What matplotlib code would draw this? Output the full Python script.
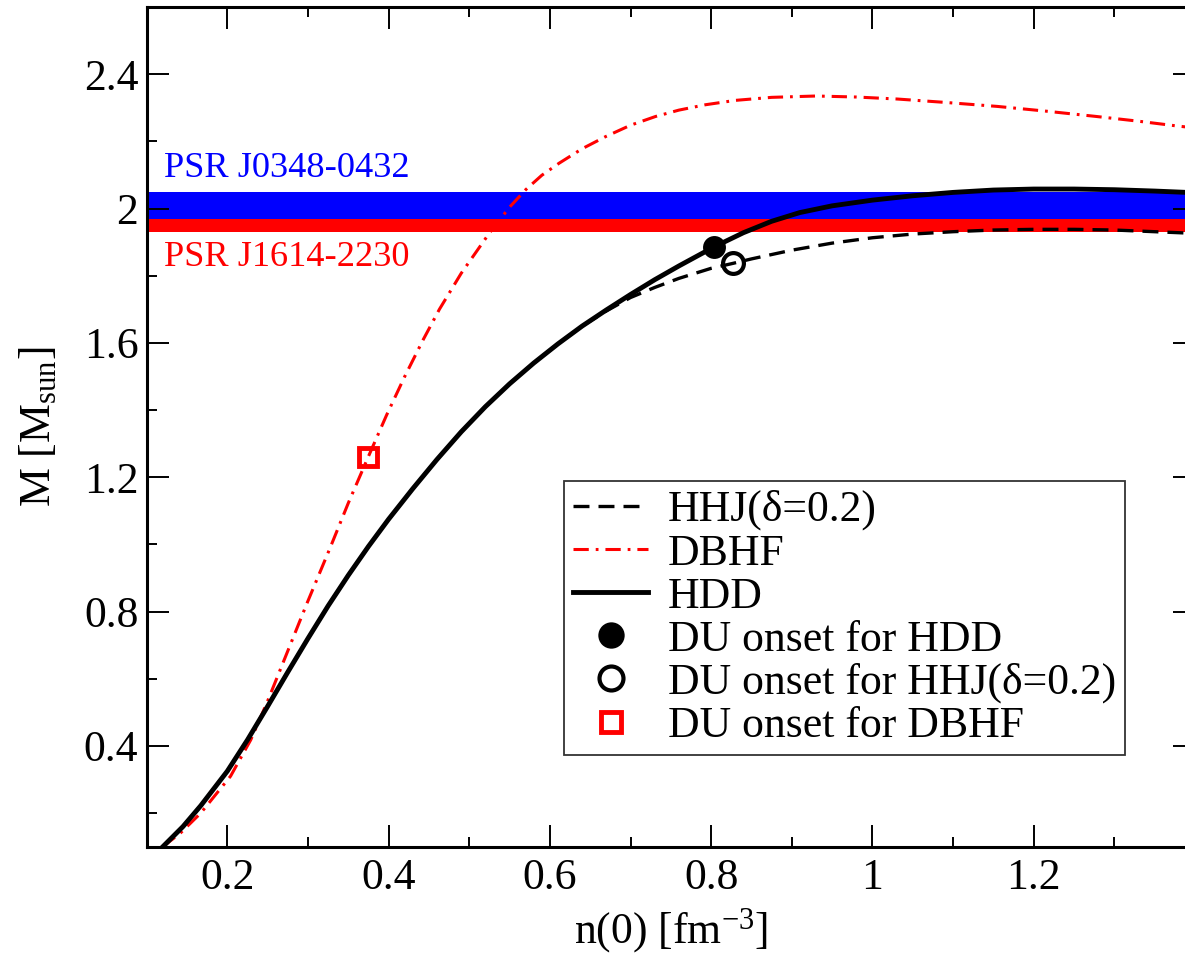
import numpy as np
import matplotlib
matplotlib.use("Agg")
import matplotlib.pyplot as plt
from matplotlib.ticker import FixedLocator, FuncFormatter

plt.rcParams['font.family'] = ['Liberation Serif', 'DejaVu Serif']
plt.rcParams['mathtext.fontset'] = 'custom'
plt.rcParams['mathtext.rm'] = 'Liberation Serif'
plt.rcParams['mathtext.it'] = 'Liberation Serif:italic'
plt.rcParams['lines.scale_dashes'] = False

# central density n(0) [fm^-3] vs. maximum mass [M_sun]
hdd_n = [0.12, 0.145, 0.167, 0.2, 0.225, 0.25, 0.275, 0.3, 0.325, 0.35, 0.375, 0.4,
         0.43, 0.46, 0.49, 0.52, 0.55, 0.58, 0.61, 0.64, 0.67, 0.7, 0.73, 0.76,
         0.803, 0.84, 0.875, 0.91, 0.95, 1.0, 1.05, 1.1, 1.15, 1.2, 1.25, 1.3, 1.35, 1.4]
hdd_m = [0.10, 0.16, 0.222, 0.325, 0.418, 0.518, 0.62, 0.72, 0.817, 0.908, 0.994, 1.075,
         1.166, 1.253, 1.335, 1.41, 1.478, 1.54, 1.597, 1.65, 1.698, 1.744, 1.788, 1.829,
         1.885, 1.928, 1.962, 1.988, 2.008, 2.025, 2.038, 2.048, 2.055, 2.058, 2.058,
         2.056, 2.052, 2.047]

hhj_n = [0.12, 0.145, 0.167, 0.2, 0.225, 0.25, 0.275, 0.3, 0.325, 0.35, 0.375, 0.4,
         0.43, 0.46, 0.49, 0.52, 0.55, 0.58, 0.61, 0.64, 0.67, 0.7, 0.73, 0.76,
         0.8, 0.8275, 0.85, 0.9, 0.95, 1.0, 1.05, 1.1, 1.15, 1.2, 1.25, 1.3, 1.35, 1.4]
hhj_m = [0.10, 0.16, 0.222, 0.325, 0.418, 0.518, 0.62, 0.72, 0.817, 0.908, 0.994, 1.075,
         1.166, 1.253, 1.335, 1.41, 1.478, 1.54, 1.597, 1.65, 1.695, 1.735, 1.765, 1.792,
         1.822, 1.837, 1.85, 1.876, 1.897, 1.913, 1.924, 1.931, 1.936, 1.938, 1.938,
         1.936, 1.931, 1.926]

dbhf_n = [0.12, 0.142, 0.167, 0.204, 0.229, 0.249, 0.274, 0.299, 0.3275, 0.35, 0.375,
          0.3975, 0.42, 0.443, 0.463, 0.49, 0.525, 0.55, 0.57, 0.59, 0.6115, 0.64,
          0.669, 0.7, 0.731, 0.76, 0.793, 0.83, 0.875, 0.93, 0.98, 1.031, 1.09, 1.155,
          1.215, 1.278, 1.33, 1.377, 1.4]
dbhf_m = [0.10, 0.141, 0.20, 0.31, 0.418, 0.528, 0.677, 0.826, 0.99, 1.123, 1.262,
          1.385, 1.50, 1.61, 1.70, 1.807, 1.927, 2.004, 2.056, 2.099, 2.135, 2.178,
          2.214, 2.248, 2.274, 2.293, 2.309, 2.322, 2.331, 2.335, 2.332, 2.326, 2.316,
          2.304, 2.29, 2.274, 2.26, 2.246, 2.24]

# direct Urca onset points
du_hdd = (0.803, 1.885)
du_hhj = (0.8275, 1.837)
du_dbhf = (0.375, 1.26)

# observed pulsar masses (mean, error)
psr_j0348 = (2.01, 0.04)
psr_j1614 = (1.97, 0.04)

fig = plt.figure(figsize=(11.85, 9.59), dpi=100)
ax = fig.add_axes([0.1238, 0.1171, 0.8846, 0.8756])

ax.axhspan(psr_j1614[0] - psr_j1614[1], psr_j1614[0] + psr_j1614[1], color='#ff0000', lw=0, zorder=1)
ax.axhspan(psr_j0348[0] - psr_j0348[1], psr_j0348[0] + psr_j0348[1], color='#0000ff', lw=0, zorder=1)

ax.text(0.1214, 2.095, 'PSR J0348-0432', color='#0000ff', fontsize=26.2, va='baseline')
ax.text(0.1214, 1.83, 'PSR J1614-2230', color='#ff0000', fontsize=26.2, va='baseline')

l_hhj, = ax.plot(hhj_n, hhj_m, color='k', lw=2.4, dashes=(11.5, 6.5), zorder=3,
                 label='HHJ(δ=0.2)')
l_dbhf, = ax.plot(dbhf_n, dbhf_m, color='#ff0000', lw=2.2, dashes=(11, 5, 2, 5), zorder=3,
                  label='DBHF')
l_hdd, = ax.plot(hdd_n, hdd_m, color='k', lw=3.5, zorder=4, label='HDD')

m_hdd, = ax.plot(du_hdd[0], du_hdd[1], 'o', color='k', ms=16.5, mew=0, zorder=5,
                 label='DU onset for HDD')
m_hhj, = ax.plot(du_hhj[0], du_hhj[1], 'o', mfc='none', mec='k', ms=15, mew=3, zorder=5,
                 label='DU onset for HHJ(δ=0.2)')
m_dbhf, = ax.plot(du_dbhf[0], du_dbhf[1], 's', mfc='none', mec='#ff0000', ms=13, mew=3.5,
                  zorder=5, label='DU onset for DBHF')

ax.set_xlim(0.1, 1.4)
ax.set_ylim(0.1, 2.6)
ax.xaxis.set_major_locator(FixedLocator([0.2, 0.4, 0.6, 0.8, 1.0, 1.2]))
ax.xaxis.set_minor_locator(FixedLocator([0.1, 0.3, 0.5, 0.7, 0.9, 1.1, 1.3]))
ax.yaxis.set_major_locator(FixedLocator([0.4, 0.8, 1.2, 1.6, 2.0, 2.4]))
ax.yaxis.set_minor_locator(FixedLocator([0.2, 0.6, 1.0, 1.4, 1.8, 2.2]))
fmt = FuncFormatter(lambda v, p: '%g' % round(v, 2))
ax.xaxis.set_major_formatter(fmt)
ax.yaxis.set_major_formatter(fmt)

ax.tick_params(which='both', direction='in', top=True, right=True, width=1.4, labelsize=31.5)
ax.tick_params(which='major', length=15.5)
ax.tick_params(which='minor', length=7.5)
ax.tick_params(axis='x', which='major', pad=8)
ax.tick_params(axis='y', which='major', pad=6)
for s in ax.spines.values():
    s.set_linewidth(2.2)

ax.set_xlabel(r'n(0) [fm$^{-3}$]', fontsize=31.5, labelpad=6)
ax.set_ylabel(r'M [M$_{\rm sun}$]', fontsize=31.5, labelpad=18)

leg = ax.legend(handles=[l_hhj, l_dbhf, l_hdd, m_hdd, m_hhj, m_dbhf],
                loc='lower right', bbox_to_anchor=(0.9333, 0.1092), fontsize=31.5,
                frameon=True, fancybox=False, shadow=False, numpoints=1, markerscale=1.15,
                handlelength=1.71, handletextpad=0.46, labelspacing=0.07,
                borderpad=0.2, borderaxespad=0.0)
leg.get_frame().set_edgecolor('k')
leg.get_frame().set_linewidth(1.3)
leg.set_zorder(6)

fig.savefig('out.png', dpi=100)
